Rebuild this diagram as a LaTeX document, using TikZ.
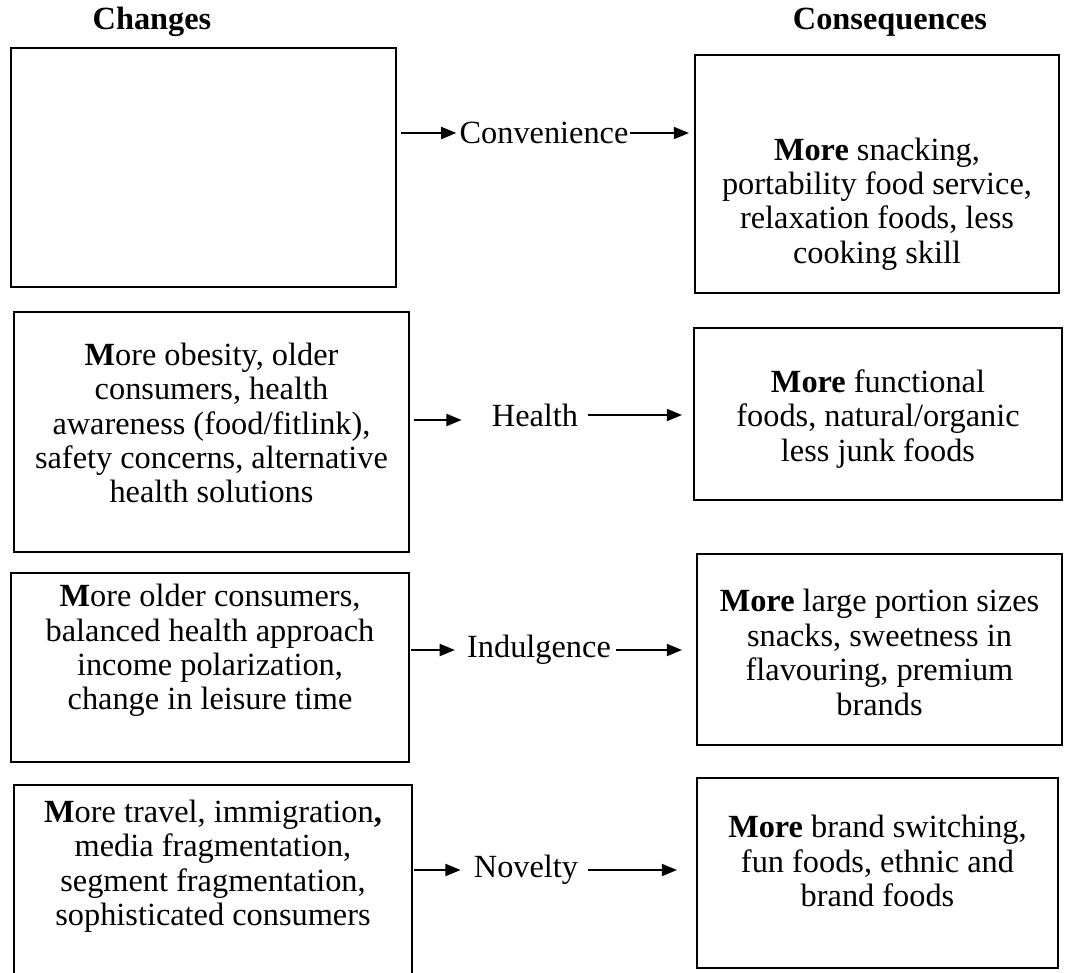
\documentclass[tikz,border=0pt]{standalone}
\usepackage{fontspec}
\setmainfont{Liberation Serif}
\usetikzlibrary{arrows.meta, fit}
\newdimen\pxu
\pxu=0.025cm

\begin{document}
\begin{tikzpicture}[x=0.025cm, y=-0.025cm,
  box/.style={draw, line width=1.4pt, inner sep=0pt},
  txt/.style={align=center, inner sep=0pt, font=\fontsize{23}{24.5}\selectfont},
  trend/.style={inner sep=0pt, font=\fontsize{23}{24.5}\selectfont},
  head/.style={inner sep=0pt, font=\fontsize{23}{24.5}\selectfont\bfseries},
  arr/.style={-{Triangle[length=0.38cm, width=0.3cm]}, line width=1.4pt}]
  \useasboundingbox (0,0) rectangle (1066,973);

  % column headings
  \node[head] (hchg) at (152,22) {Changes};
  \node[head] (hcon) at (890,22) {Consequences};

  % changes
  \node[box, fit={(11,48) (396,287)}] (l1) {};
  \node[box, fit={(14,312) (409,552)}] (l2) {};
  \node[box, fit={(11,573) (409,762)}] (l3) {};
  \node[box, fit={(14,785) (412,975)}] (l4) {};
  \node[txt] (l2t) at ([yshift=9\pxu]l2.center) {\textbf{M}ore obesity, older\\consumers, health\\awareness (food/fitlink),\\safety concerns, alternative\\health solutions};
  \node[txt] (l3t) at ([yshift=17\pxu]l3.center) {\textbf{M}ore older consumers,\\balanced health approach\\income polarization,\\change in leisure time};
  \node[txt] (l4t) at ([yshift=14\pxu]l4.center) {\textbf{M}ore travel, immigration\textbf{,}\\media fragmentation,\\segment fragmentation,\\sophisticated consumers};

  % consequences
  \node[box, fit={(695,55) (1059,293)}] (r1) {};
  \node[box, fit={(694,328) (1062,500)}] (r2) {};
  \node[box, fit={(697,554) (1062,745)}] (r3) {};
  \node[box, fit={(697,778) (1058,968)}] (r4) {};
  \node[txt] (r1t) at ([yshift=-30\pxu]r1.center) {\textbf{More} snacking,\\portability food service,\\relaxation foods, less\\cooking skill};
  \node[txt] (r2t) at ([yshift=-5\pxu]r2.center) {\textbf{More} functional\\foods, natural/organic\\less junk foods};
  \node[txt] (r3t) at ([yshift=-3\pxu]r3.center) {\textbf{More} large portion sizes\\snacks, sweetness in\\flavouring, premium\\brands};
  \node[txt] (r4t) at ([yshift=12\pxu]r4.center) {\textbf{More} brand switching,\\fun foods, ethnic and\\brand foods};

  % trends
  \node[trend] (conv) at (544,133) {Convenience};
  \node[trend] (hlth) at (535,415) {Health};
  \node[trend] (indu) at (539,650) {Indulgence};
  \node[trend] (novl) at (526,870) {Novelty};

  \draw[arr, shorten <=4\pxu, shorten >=3\pxu] (l1.east |- conv.west) -- (conv.west);
  \draw[arr, shorten <=1\pxu, shorten >=5\pxu] (conv.east) -- (conv.east -| r1.west);
  \draw[arr, shorten <=4\pxu, shorten >=30\pxu] ([yshift=-5\pxu]l2.east |- hlth.west) -- ([yshift=-5\pxu]hlth.west);
  \draw[arr, shorten <=10\pxu, shorten >=11\pxu] (hlth.east) -- (hlth.east -| r2.west);
  \draw[arr, shorten <=1\pxu, shorten >=12\pxu] (l3.east |- indu.west) -- (indu.west);
  \draw[arr, shorten <=5\pxu, shorten >=14\pxu] (indu.east) -- (indu.east -| r3.west);
  \draw[arr, shorten <=1\pxu, shorten >=13\pxu] (l4.east |- novl.west) -- (novl.west);
  \draw[arr, shorten <=10\pxu, shorten >=19\pxu] (novl.east) -- (novl.east -| r4.west);
\end{tikzpicture}
\end{document}
